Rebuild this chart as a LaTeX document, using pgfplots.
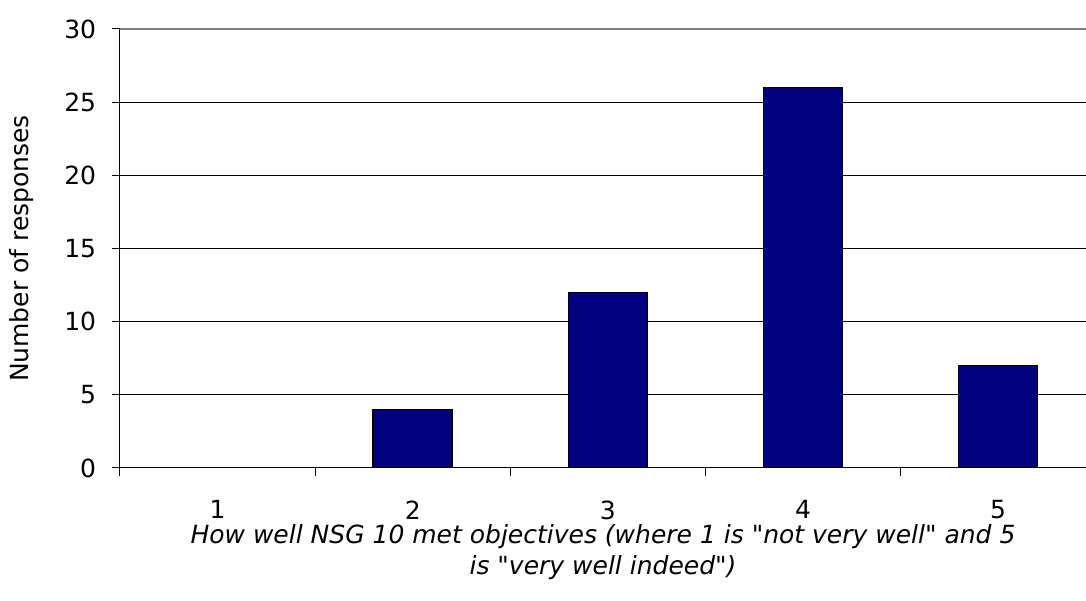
\documentclass[border=0pt]{standalone}
\usepackage{fontspec}
\setmainfont{DejaVu Sans}[Ligatures=TeXReset]
\usepackage{pgfplots}
\pgfplotsset{compat=1.18}
\definecolor{barnavy}{RGB}{0,0,128}

\begin{document}
\begin{tikzpicture}
\path[use as bounding box] (-72pt,-79.8pt) rectangle (579.6pt,280.8pt);
\begin{axis}[
    at={(0,0)}, anchor=south west,
    scale only axis,
    width=579.6pt,
    height=263.4pt,
    font=\fontsize{15}{19}\selectfont,
    /pgf/number format/assume math mode=true,
    ybar,
    bar width=47.4pt,
    xmin=-0.5, xmax=4.45,
    ymin=0, ymax=30,
    axis x line*=bottom,
    axis y line*=left,
    axis line style={line width=0.6pt},
    % category boundaries carry the tick marks, centres carry the labels
    xtick={-0.5,0.5,1.5,2.5,3.5},
    xticklabels={},
    extra x ticks={0,1,2,3,4},
    extra x tick labels={1,2,3,4,5},
    extra x tick style={major tick length=0pt, xticklabel style={yshift=-16pt}},
    xtick style={line width=0.6pt, black},
    ytick={0,5,10,15,20,25},
    extra y ticks={30},
    extra y tick style={grid style={gray, line width=1pt}},
    ytick style={line width=0.6pt, black},
    tick align=outside,
    major tick length=4.8pt,
    ymajorgrids,
    grid style={black, line width=0.6pt},
    yticklabel style={xshift=-6pt},
    xlabel={\itshape How well NSG 10 met objectives (where 1 is "not very well" and 5\\ \itshape is "very well indeed")},
    xlabel style={at={(axis description cs:0.5,0)}, anchor=center, yshift=-50.5pt, align=center},
    ylabel={Number of responses},
    ylabel style={at={(axis description cs:-0.1014,0.5)}, anchor=center},
]
\addplot[fill=barnavy, draw=black, line width=0.9pt] coordinates {
    (0,0) (1,4) (2,12) (3,26) (4,7)
};
\end{axis}
\end{tikzpicture}
\end{document}
